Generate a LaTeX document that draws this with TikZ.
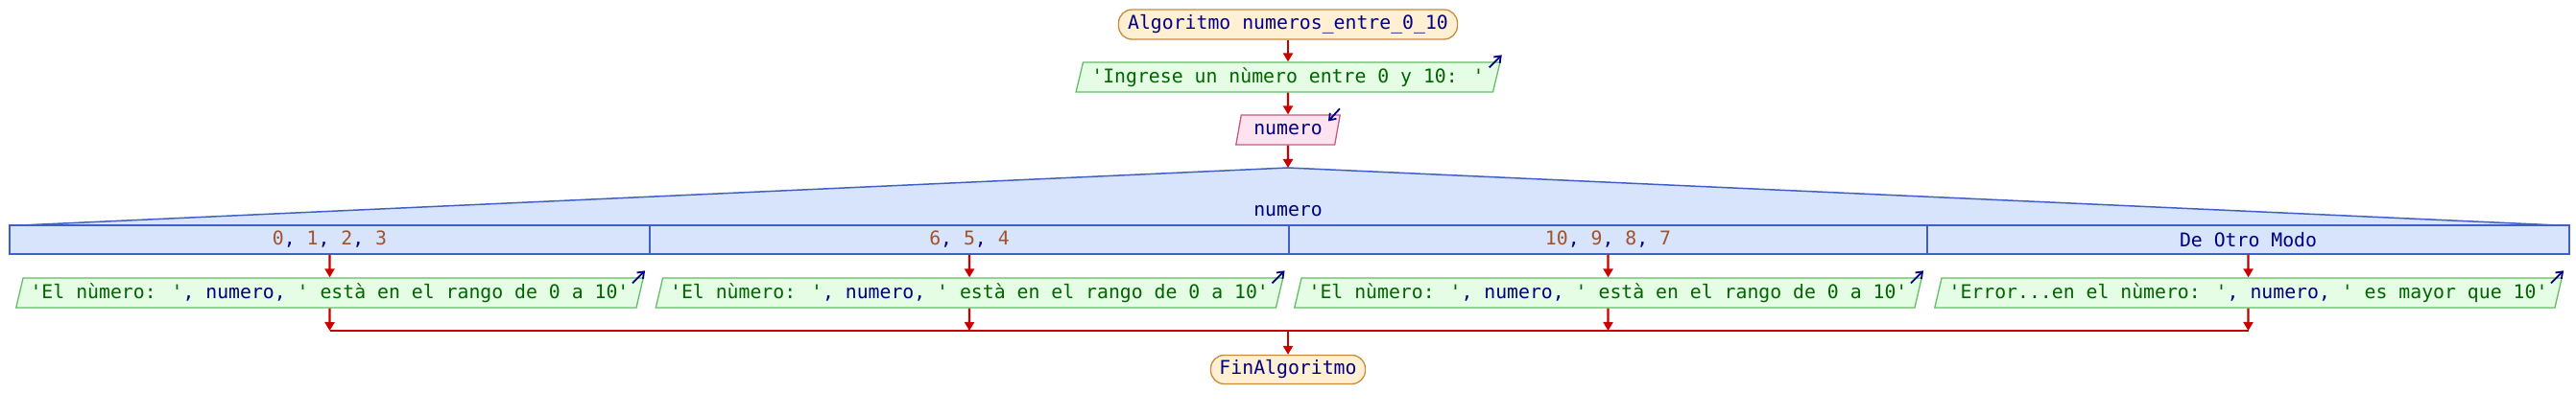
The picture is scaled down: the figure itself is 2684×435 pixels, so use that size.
\documentclass[tikz,border=0pt]{standalone}
\usepackage{fontspec}
\newfontfamily\mono{DejaVu Sans Mono}
\usetikzlibrary{shapes.geometric,arrows.meta}
\definecolor{navy}{RGB}{0,0,128}
\definecolor{strgreen}{RGB}{0,100,0}
\definecolor{numbrown}{RGB}{160,82,45}
\definecolor{arrowred}{RGB}{200,0,0}
\definecolor{startfill}{RGB}{255,240,212}
\definecolor{startdraw}{RGB}{200,140,60}
\definecolor{outfill}{RGB}{228,253,228}
\definecolor{outdraw}{RGB}{100,190,100}
\definecolor{infill}{RGB}{253,226,240}
\definecolor{indraw}{RGB}{200,90,130}
\definecolor{casefill}{RGB}{216,228,252}
\definecolor{casedraw}{RGB}{64,96,200}
\begin{document}
\begin{tikzpicture}[x=1pt,y=-1pt,
  font=\mono\fontsize{19.8}{24}\selectfont,
  flow/.style={draw=arrowred, line width=2.2pt, -{Triangle[length=9pt,width=10pt]}},
  redline/.style={draw=arrowred, line width=2.2pt},
  term/.style={draw=startdraw, fill=startfill, line width=1.3pt, rounded corners=14pt, minimum height=31, inner sep=0pt, text=navy},
  outbox/.style={trapezium, trapezium left angle=70.5, trapezium right angle=109.5, trapezium stretches=true, draw=outdraw, fill=outfill, line width=1.3pt, minimum height=31, inner sep=0pt, text=strgreen},
  inbox/.style={trapezium, trapezium left angle=70.5, trapezium right angle=109.5, trapezium stretches=true, draw=indraw, fill=infill, line width=1.3pt, minimum height=31, inner sep=0pt, text=navy},
  cell/.style={draw=casedraw, fill=casefill, line width=1.5pt, minimum height=30, inner sep=0pt, text=numbrown},
  smallarrow/.style={draw=navy, line width=1.8pt, -{Straight Barb[length=6pt,width=9pt]}},
  ]
\useasboundingbox (0,0) rectangle (2684,435);
% start
\node[term, minimum width=353] (start) at (1342,25.5) {Algoritmo numeros\_entre\_0\_10};
% prompt output
\node[outbox, minimum width=444] (prompt) at (1342,80.5) {'Ingrese un nùmero entre 0 y 10: '};
% input
\node[inbox, minimum width=109] (inp) at (1342,135.5) {numero};
% case header
\coordinate (peak) at (1342,175);
\filldraw[fill=casefill, draw=casedraw, line width=1.5pt] (22,235) -- (peak) -- (2665,235) -- cycle;
\node[text=navy] (sel) at (1342,220) {numero};
\node[cell, minimum width=667] (c1) at (343.5,250) {0{\color{navy},} 1{\color{navy},} 2{\color{navy},} 3};
\node[cell, minimum width=666] (c2) at (1010,250) {6{\color{navy},} 5{\color{navy},} 4};
\node[cell, minimum width=665] (c3) at (1675.5,250) {10{\color{navy},} 9{\color{navy},} 8{\color{navy},} 7};
\node[cell, minimum width=669, text=navy] (c4) at (2342.5,250) {De Otro Modo};
% outputs
\node[outbox, minimum width=658] (o1) at (343.5,305.5) {'El nùmero: '{\color{navy}, numero, }' està en el rango de 0 a 10'};
\node[outbox, minimum width=658] (o2) at (1010,305.5) {'El nùmero: '{\color{navy}, numero, }' està en el rango de 0 a 10'};
\node[outbox, minimum width=658] (o3) at (1675.5,305.5) {'El nùmero: '{\color{navy}, numero, }' està en el rango de 0 a 10'};
\node[outbox, minimum width=658] (o4) at (2342.5,305.5) {'Error...en el nùmero: '{\color{navy}, numero, }' es mayor que 10'};
% end
\node[term, minimum width=161, minimum height=30] (fin) at (1342,385.5) {FinAlgoritmo};
% merge coordinates
\coordinate (m1) at (343.5,345);
\coordinate (m2) at (1010,345);
\coordinate (m3) at (1675.5,345);
\coordinate (m4) at (2342.5,345);
\coordinate (mc) at (1342,345);
% connectors
\draw[flow] (start) -- (prompt);
\draw[flow] (prompt) -- (inp);
\draw[flow] (inp) -- (peak);
\draw[flow] (c1) -- (o1);
\draw[flow] (c2) -- (o2);
\draw[flow] (c3) -- (o3);
\draw[flow] (c4) -- (o4);
\draw[redline] (m1) -- (m4);
\draw[flow] (o1) -- (m1);
\draw[flow] (o2) -- (m2);
\draw[flow] (o3) -- (m3);
\draw[flow] (o4) -- (m4);
\draw[flow] (mc) -- (fin);
% small io arrows
\draw[smallarrow] ([shift={(-12,6)}]prompt.top right corner) -- ([shift={(1,-7)}]prompt.top right corner);
\draw[smallarrow] ([shift={(-1,-6)}]inp.top right corner) -- ([shift={(-13,7)}]inp.top right corner);
\foreach \o in {o1,o2,o3,o4}{
  \draw[smallarrow] ([shift={(-12,6)}]\o.top right corner) -- ([shift={(1,-7)}]\o.top right corner);
}
\end{tikzpicture}
\end{document}
